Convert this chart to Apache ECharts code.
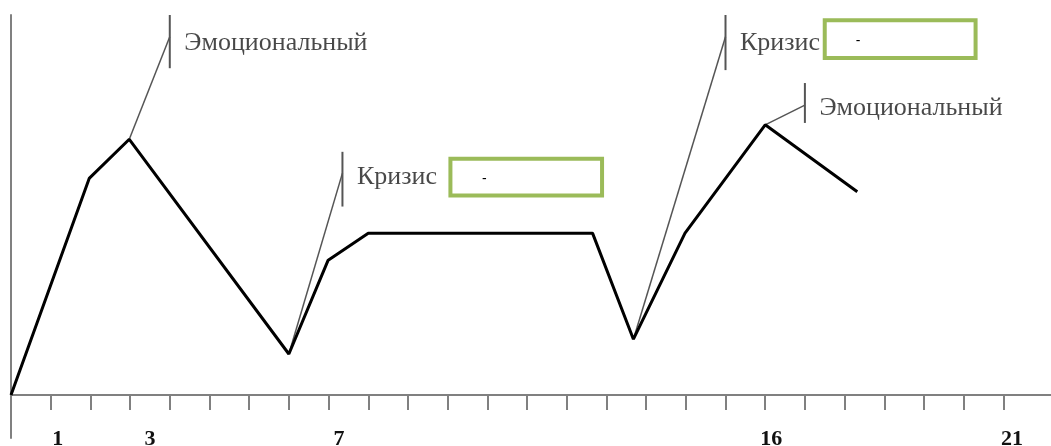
<!DOCTYPE html>
<html>
<head>
<meta charset="utf-8">
<style>
    html, body { margin: 0; padding: 0; background: #fff; }
    #chart { width: 1051px; height: 446px; }
</style>
<script src="https://cdn.jsdelivr.net/npm/echarts@6/dist/echarts.min.js"></script>
</head>
<body>
<div id="chart"></div>
<script>
    // main curve (x in tick units, y in arbitrary level units)
    const curveX = [0, 1.97, 2.98, 7.0, 7.99, 9.0, 14.65, 15.68, 16.98, 19.0, 21.32]
    const curveY = [0, 5.70, 6.73, 1.08, 3.55, 4.26, 4.26, 1.47, 4.26, 7.11, 5.35]

    // axis ticks and the few labelled positions
    const tickValues = [1, 2, 3, 4, 5, 6, 7, 8, 9, 10, 11, 12, 13, 14, 15, 16, 17, 18, 19, 20, 21, 22, 23, 24, 25]
    const labelValues = [1.18, 3.5, 8.26, 19.15, 25.22]
    const labelTexts = ['1', '3', '7', '16', '21']

    // callouts: which curve point, where the leader ends, the bar, the text
    const notePoint = [2, 3, 7, 9]
    const noteX = [4, 8.35, 18, 20]
    const noteY = [9.43, 5.84, 9.43, 7.63]
    const barTop = [10, 6.40, 10, 8.21]
    const barBottom = [8.6, 4.96, 8.55, 7.16]
    const textY = [9.27, 5.72, 9.27, 7.56]
    const noteText = ['Эмоциональный', 'Кризис', 'Кризис', 'Эмоциональный']

    // green boxes
    const boxX1 = [11.07, 20.50]
    const boxX2 = [14.89, 24.30]
    const boxY1 = [6.22, 9.86]
    const boxY2 = [5.25, 8.87]

    const chart = echarts.init(document.getElementById('chart'))

    const series = [{
      type: 'line',
      data: curveX.map((x, i) => [x, curveY[i]]),
      symbol: 'none',
      lineStyle: { color: '#000', width: 3 },
      z: 5
    }]

    noteText.forEach((t, i) => {
      const p = notePoint[i]
      series.push({
        type: 'line',
        data: [[curveX[p], curveY[p]], [noteX[i], noteY[i]]],
        symbol: 'none',
        lineStyle: { color: '#555', width: 1.5 },
        z: 3
      })
      series.push({
        type: 'line',
        data: [[noteX[i], barTop[i]], [noteX[i], barBottom[i]]],
        symbol: 'none',
        lineStyle: { color: '#555', width: 2 },
        z: 3
      })
    })

    series.push({
      type: 'scatter',
      data: noteText.map((t, i) => ({ value: [noteX[i], textY[i]], name: t })),
      symbolSize: 1,
      itemStyle: { color: 'transparent' },
      label: {
        show: true,
        position: 'right',
        distance: 14,
        formatter: p => p.name,
        fontFamily: 'Liberation Serif',
        fontSize: 26,
        color: '#1a1a1a'
      },
      z: 4
    })

    series.push({
      type: 'line',
      data: [],
      markArea: {
        silent: true,
        itemStyle: { color: '#fff', borderColor: '#9bbb59', borderWidth: 4 },
        label: { show: true, position: 'inside', offset: [-42, 2], color: '#000', fontSize: 14, formatter: '-' },
        data: boxX1.map((x, i) => [{ coord: [x, boxY1[i]] }, { coord: [boxX2[i], boxY2[i]] }])
      },
      z: 10
    })

    chart.setOption({
      backgroundColor: '#fff',
      animation: false,
      grid: { left: 11, right: 0, top: 15, bottom: 8, containLabel: false, outerBoundsMode: 'none' },
      xAxis: {
        type: 'value',
        min: 0,
        max: 26.2,
        axisLine: { onZero: true, lineStyle: { color: '#808080', width: 2 } },
        axisTick: { show: true, customValues: tickValues, length: 15, lineStyle: { color: '#808080', width: 2 } },
        axisLabel: {
          customValues: labelValues,
          margin: -10,
          fontFamily: 'Liberation Serif',
          fontWeight: 'bold',
          fontSize: 22,
          color: '#111',
          formatter: v => {
            const i = labelValues.findIndex(l => Math.abs(l - v) < 1e-6)
            return i >= 0 ? labelTexts[i] : ''
          }
        },
        splitLine: { show: false }
      },
      yAxis: {
        type: 'value',
        min: -1.13,
        max: 10,
        axisLine: { show: true, onZero: false, lineStyle: { color: '#808080', width: 2 } },
        axisTick: { show: false },
        axisLabel: { show: false },
        splitLine: { show: false }
      },
      series: series
    })
</script>
</body>
</html>
